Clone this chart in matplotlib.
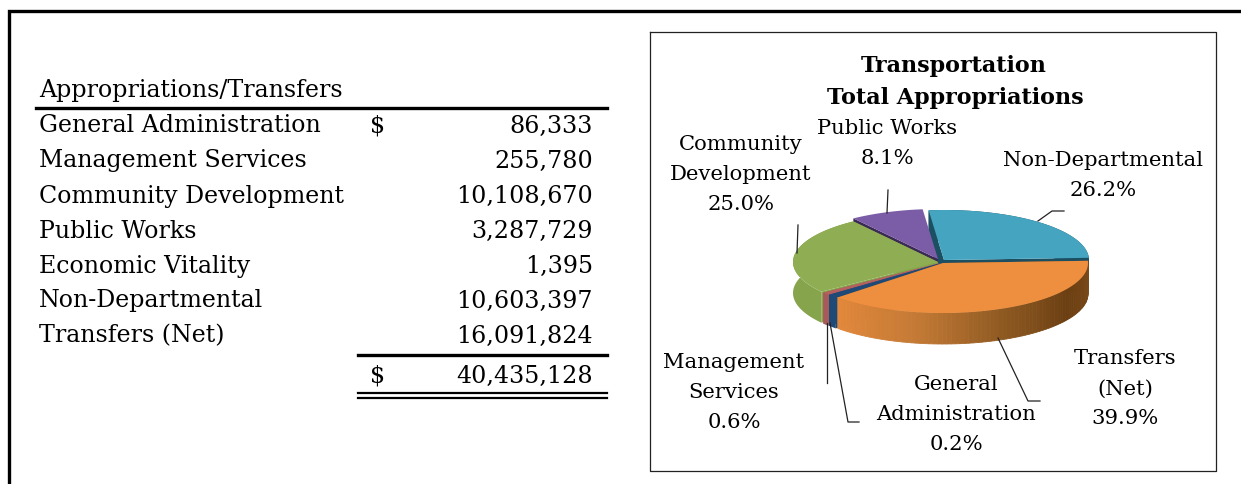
import numpy as np
import matplotlib
matplotlib.use('Agg')
import matplotlib.pyplot as plt
from matplotlib.colors import LinearSegmentedColormap

plt.rcParams['font.family'] = ['DejaVu Serif', 'Liberation Serif']

# table
rows = ['General Administration', 'Management Services', 'Community Development',
        'Public Works', 'Economic Vitality', 'Non-Departmental', 'Transfers (Net)']
amounts = [86333, 255780, 10108670, 3287729, 1395, 10603397, 16091824]
total = 40435128

# pie, clockwise from the top
pie_names = ['Non-Departmental', 'Transfers (Net)', 'General Administration',
             'Management Services', 'Community Development', 'Public Works', 'Economic Vitality']
pie_top = ['#45a5c1', '#ee8f40', '#1f4a78', '#b5605f', '#8fae53', '#7b5ca6', '#7b5ca6']
pie_wall = ['#1d4f63', '#8a5520', '#1f4a78', '#a8595a', '#86a44c', '#3a2a55', '#3a2a55']
pie_dx = [3, 2, 0, -1, -3, -3, -3]
pie_dy = [-2, 1, 1, 1, 0, -3, -3]

fig = plt.figure(figsize=(12.41, 4.84), dpi=100)
ax = fig.add_axes([0, 0, 1, 1])
ax.set_xlim(0, 1241)
ax.set_ylim(484, 0)
ax.axis('off')

# outer frame
ax.plot([9, 9, 1241], [484, 11, 11], color='black', lw=2.4, solid_joinstyle='miter')

# table text
fs = 17.1
ax.text(39, 91, 'Appropriations/Transfers', fontsize=fs, va='center')
ax.plot([36, 607], [108, 108], color='black', lw=2.4)
row_y = 126
for i in range(len(rows)):
    ax.text(39, row_y, rows[i], fontsize=fs, va='center')
    ax.text(593, row_y, format(amounts[i], ','), fontsize=fs, va='center', ha='right')
    row_y += 35
ax.text(378, 126, '$', fontsize=fs, va='center', ha='center')
ax.plot([358, 607], [355, 355], color='black', lw=2.4)
ax.text(378, 376, '$', fontsize=fs, va='center', ha='center')
ax.text(593, 376, format(total, ','), fontsize=fs, va='center', ha='right')
ax.plot([358, 607], [393, 393], color='black', lw=1.6)
ax.plot([358, 607], [398, 398], color='black', lw=1.6)

# chart box
ax.plot([650, 1216, 1216, 650, 650], [32, 32, 471, 471, 32], color='#222222', lw=0.9)
ax.text(954, 66, 'Transportation', fontsize=16, fontweight='bold', ha='center', va='center')
ax.text(955, 98, 'Total Appropriations', fontsize=16, fontweight='bold', ha='center', va='center')

# pseudo 3d pie
cx, cy = 941, 262
rx, ry = 145, 50
depth = 31
vals = np.zeros(len(pie_names))
for i in range(len(rows)):
    vals[pie_names.index(rows[i])] = amounts[i]
sweeps = vals / vals.sum() * 360
# the two slivers look wider than their share on the page
sweeps[2] = sweeps[2] + 3.3
sweeps[3] = sweeps[3] + 0.8
sweeps = sweeps / sweeps.sum() * 360
ends = 97 - np.cumsum(sweeps)
starts = ends + sweeps


def warp(deg):
    # excel's perspective stretches the front left a little
    return deg + 1.5 * np.sin(np.radians(deg - 135))


def slice_geom(k):
    t = np.radians(warp(np.linspace(starts[k], ends[k], 80)))
    ox = cx + pie_dx[k]
    oy = cy + pie_dy[k]
    return ox, oy, ox + rx * np.cos(t), oy - ry * np.sin(t)


orange_side = LinearSegmentedColormap.from_list(
    'side', ['#e2883c', '#c47a35', '#8f5a22', '#6b3f12', '#7e4c1a'])

draw_order = [0, 5, 6, 4, 3, 2, 1]
for k in draw_order:
    ox, oy, xs, ys = slice_geom(k)
    # cut faces, purple's right one would hide the blue wall
    if k != 6:
        ax.fill([ox, xs[0], xs[0], ox], [oy, ys[0], ys[0] + depth, oy + depth], color=pie_wall[k], lw=0)
    if k != 5 and k != 6:
        ax.fill([ox, xs[-1], xs[-1], ox], [oy, ys[-1], ys[-1] + depth, oy + depth], color=pie_wall[k], lw=0)
    # rim, purple sits at the back so it has none
    if k == 1:
        for j in range(len(xs) - 1):
            c = orange_side(1 - j / (len(xs) - 2))
            ax.fill([xs[j], xs[j + 1], xs[j + 1], xs[j]],
                    [ys[j], ys[j + 1], ys[j + 1] + depth, ys[j] + depth], color=c, lw=0.6, ec=c)
    elif k != 5 and k != 6:
        ax.fill(np.r_[xs, xs[::-1]], np.r_[ys, ys[::-1] + depth], color=pie_wall[k], lw=0)
    # top
    ax.fill(np.r_[ox, xs], np.r_[oy, ys], color=pie_top[k], lw=0)

# leader lines
ax.plot([1038, 1052, 1064], [221, 211, 211], color='#222222', lw=0.9)
ax.plot([888, 887], [190, 213], color='#222222', lw=0.9)
ax.plot([798, 797], [225, 253], color='#222222', lw=0.9)
ax.plot([827, 827], [323, 383], color='#222222', lw=0.9)
ax.plot([830, 848, 859], [323, 422, 422], color='#222222', lw=0.9)
ax.plot([998, 1028, 1040], [338, 401, 401], color='#222222', lw=0.9)

# pie labels
lab = 15.2
label_x = [741, 887, 1103, 734, 956, 1125]
label_y = [144, 128, 161, 363, 385, 359]
label_txt = [['Community', 'Development', '25.0%'], ['Public Works', '8.1%'],
             ['Non-Departmental', '26.2%'], ['Management', 'Services', '0.6%'],
             ['General', 'Administration', '0.2%'], ['Transfers', '(Net)', '39.9%']]
for i in range(len(label_txt)):
    for j in range(len(label_txt[i])):
        ax.text(label_x[i], label_y[i] + j * 30, label_txt[i][j], fontsize=lab,
                ha='center', va='center')

fig.savefig('out.png', dpi=100, facecolor='white')
